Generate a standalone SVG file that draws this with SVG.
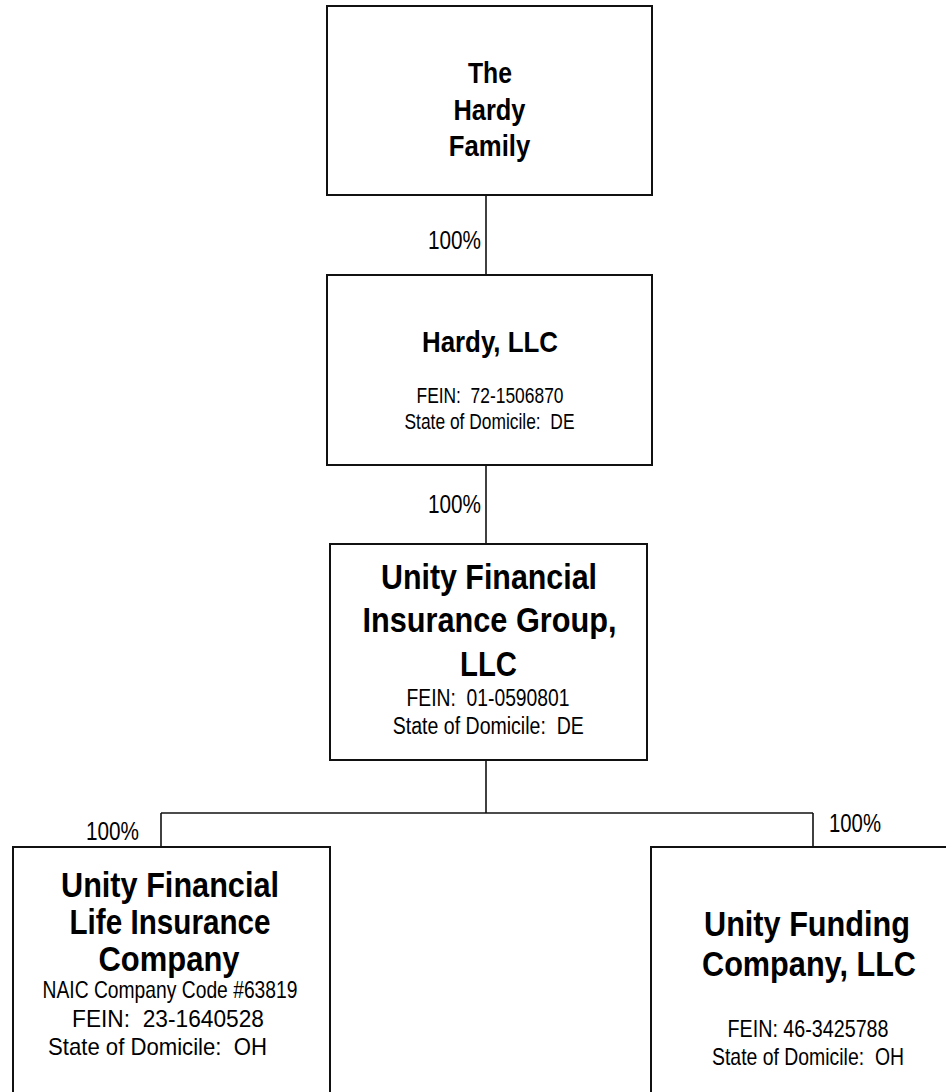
<svg xmlns="http://www.w3.org/2000/svg" width="946" height="1092" viewBox="0 0 946 1092" xml:space="preserve">
<style>
.box{fill:#fff;stroke:#111;stroke-width:2}
.ln{stroke:#111;stroke-width:1.6;fill:none}
text{font-family:"Liberation Sans",Arial,sans-serif;fill:#000;white-space:pre}
.t{font-weight:bold;text-anchor:middle}
.s{text-anchor:middle}
.p{font-size:25px}
</style>
<rect width="946" height="1092" fill="#fff"/>
<g id="connectors">
<line class="ln" x1="486" y1="195" x2="486" y2="275"/>
<line class="ln" x1="486" y1="465" x2="486" y2="544"/>
<line class="ln" x1="486" y1="760" x2="486" y2="813"/>
<line class="ln" x1="161" y1="813" x2="813" y2="813"/>
<line class="ln" x1="161" y1="813" x2="161" y2="847"/>
<line class="ln" x1="813" y1="813" x2="813" y2="847"/>
<text class="p" x="481" y="249" text-anchor="end" textLength="53" lengthAdjust="spacingAndGlyphs">100%</text>
<text class="p" x="481" y="513" text-anchor="end" textLength="53" lengthAdjust="spacingAndGlyphs">100%</text>
<text class="p" x="86" y="840" textLength="53" lengthAdjust="spacingAndGlyphs">100%</text>
<text class="p" x="829" y="832" textLength="52" lengthAdjust="spacingAndGlyphs">100%</text>
</g>
<g id="hardy-family">
<rect class="box" x="327" y="6" width="325" height="189"/>
<text class="t" font-size="29" x="490" y="82.5" textLength="44" lengthAdjust="spacingAndGlyphs">The</text>
<text class="t" font-size="29" x="489.5" y="119.5" textLength="72" lengthAdjust="spacingAndGlyphs">Hardy</text>
<text class="t" font-size="29" x="489.5" y="156" textLength="81.5" lengthAdjust="spacingAndGlyphs">Family</text>
</g>
<g id="hardy-llc">
<rect class="box" x="327" y="275" width="325" height="190"/>
<text class="t" font-size="30" x="490" y="352" textLength="136" lengthAdjust="spacingAndGlyphs">Hardy, LLC</text>
<text class="s" font-size="22" x="490" y="403.3" textLength="147" lengthAdjust="spacingAndGlyphs">FEIN:  72-1506870</text>
<text class="s" font-size="22" x="489.5" y="429" textLength="170" lengthAdjust="spacingAndGlyphs">State of Domicile:  DE</text>
</g>
<g id="unity-group">
<rect class="box" x="330" y="544" width="317" height="216"/>
<text class="t" font-size="35" x="489" y="589" textLength="216" lengthAdjust="spacingAndGlyphs">Unity Financial</text>
<text class="t" font-size="35" x="489.5" y="632" textLength="254" lengthAdjust="spacingAndGlyphs">Insurance Group,</text>
<text class="t" font-size="35" x="488.5" y="676" textLength="57" lengthAdjust="spacingAndGlyphs">LLC</text>
<text class="s" font-size="23" x="488" y="706" textLength="163" lengthAdjust="spacingAndGlyphs">FEIN:  01-0590801</text>
<text class="s" font-size="23" x="488.3" y="734" textLength="191" lengthAdjust="spacingAndGlyphs">State of Domicile:  DE</text>
</g>
<g id="unity-life">
<rect class="box" x="13" y="847" width="317" height="260"/>
<text class="t" font-size="35" x="170" y="896.7" textLength="218" lengthAdjust="spacingAndGlyphs">Unity Financial</text>
<text class="t" font-size="35" x="170" y="934.3" textLength="201" lengthAdjust="spacingAndGlyphs">Life Insurance</text>
<text class="t" font-size="35" x="169" y="971" textLength="141" lengthAdjust="spacingAndGlyphs">Company</text>
<text class="s" font-size="24" x="170" y="997.7" textLength="255" lengthAdjust="spacingAndGlyphs">NAIC Company Code #63819</text>
<text class="s" font-size="24" x="168" y="1026.7" textLength="192" lengthAdjust="spacingAndGlyphs">FEIN:  23-1640528</text>
<text class="s" font-size="24" x="157.5" y="1055" textLength="219" lengthAdjust="spacingAndGlyphs">State of Domicile:  OH</text>
</g>
<g id="unity-funding">
<rect class="box" x="651" y="847" width="320" height="260"/>
<text class="t" font-size="35" x="807" y="936" textLength="206" lengthAdjust="spacingAndGlyphs">Unity Funding</text>
<text class="t" font-size="35" x="809" y="976" textLength="214" lengthAdjust="spacingAndGlyphs">Company, LLC</text>
<text class="s" font-size="24" x="808" y="1036.7" textLength="161" lengthAdjust="spacingAndGlyphs">FEIN: 46-3425788</text>
<text class="s" font-size="24" x="808" y="1065" textLength="192" lengthAdjust="spacingAndGlyphs">State of Domicile:  OH</text>
</g>
</svg>
